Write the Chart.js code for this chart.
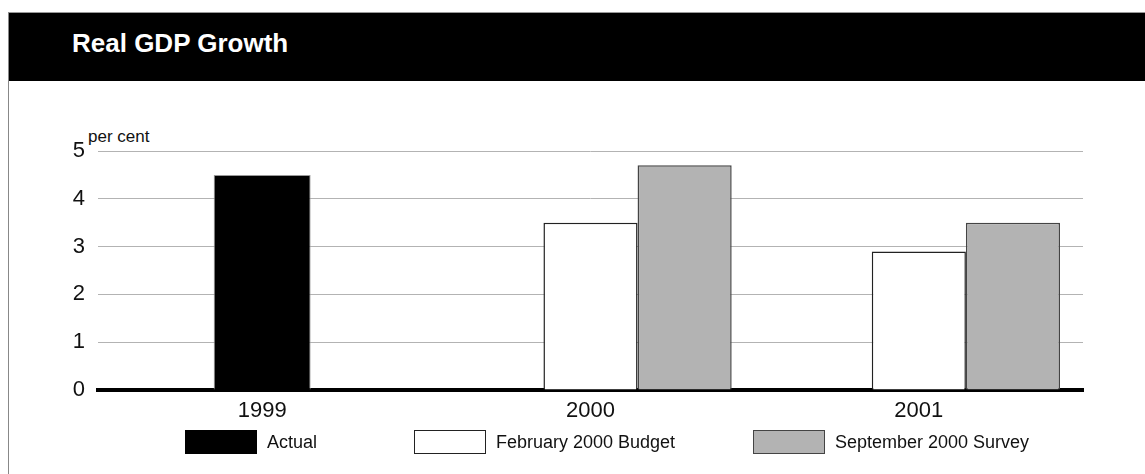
<!DOCTYPE html>
<html>
<head>
<meta charset="utf-8">
<title>Real GDP Growth</title>
<script src="https://cdn.jsdelivr.net/npm/chart.js@4.4.1/dist/chart.umd.min.js"></script>
<style>
  html, body { margin: 0; padding: 0; background: #fff; }
  body { width: 1145px; height: 474px; position: relative; overflow: hidden; font-family: "Liberation Sans", Arial, sans-serif; }
  .frame { position: absolute; left: 8px; top: 12px; width: 1200px; height: 500px; border-left: 1px solid #888; border-top: 1px solid #999; }
  .header { position: absolute; left: 9px; top: 13px; width: 1136px; height: 68px; background: #000; }
  .header h1 { position: absolute; left: 63px; top: 17px; margin: 0; color: #fff; font-size: 26px; line-height: 26px; font-weight: bold; }
  .unit { position: absolute; left: 88px; top: 127px; font-size: 17px; color: #111; }
  .chart-box { position: absolute; left: 9px; top: 82px; width: 1136px; height: 392px; }
  .legend { position: absolute; top: 430px; left: 0; width: 1145px; height: 24px; }
  .legend .item { position: absolute; top: 0; display: flex; align-items: center; height: 24px; }
  .legend .swatch { width: 70px; height: 22px; box-sizing: content-box; }
  .legend .label { margin-left: 10px; font-size: 18px; color: #111; }
</style>
</head>
<body>
<div class="frame"></div>
<div class="header"><h1>Real GDP Growth</h1></div>
<div class="unit">per cent</div>
<div class="chart-box"><canvas id="gdp" width="1136" height="392"></canvas></div>
<div class="legend" id="legend"></div>

<script>
// values
const years = ['1999', '2000', '2001'];
const actual = [4.5, null, null];
const budgetFeb2000 = [null, 3.5, 2.9];
const surveySep2000 = [null, 4.7, 3.5];
const emptySlot = [null, null, null]; // first bar slot is unused in the original
const yTicks = [0, 1, 2, 3, 4, 5];

const seriesNames = ['Actual', 'February 2000 Budget', 'September 2000 Survey'];
const fills = ['#000000', '#ffffff', '#b3b3b3'];
const edges = ['#999999', '#222222', '#444444'];
const legendLeft = [185, 414, 753];

const fontFamily = '"Liberation Sans", Arial, sans-serif';

const data = {
  labels: years,
  datasets: [
    { label: '', data: emptySlot, stack: 'a', backgroundColor: '#fff' },
    { label: seriesNames[0], data: actual, stack: 'b', backgroundColor: fills[0], borderColor: edges[0], borderWidth: 1, barPercentage: 1.03 },
    { label: seriesNames[1], data: budgetFeb2000, stack: 'b', backgroundColor: fills[1], borderColor: edges[1], borderWidth: 1.5 },
    { label: seriesNames[2], data: surveySep2000, stack: 'c', backgroundColor: fills[2], borderColor: edges[2], borderWidth: 1.5 },
  ],
};

const options = {
  responsive: false,
  animation: false,
  categoryPercentage: 0.86,
  barPercentage: 1.0,
  layout: { padding: { top: 69, right: 62, left: 0, bottom: 0 } },
  plugins: {
    legend: { display: false },
    tooltip: { enabled: false },
  },
  scales: {
    x: {
      grid: { display: false },
      border: { display: true, color: '#000', width: 4 },
      ticks: { color: '#111', padding: 0, font: { family: fontFamily, size: 22 } },
      afterFit: scale => { scale.height = 84; },
    },
    y: {
      min: 0,
      max: 5,
      afterBuildTicks: scale => { scale.ticks = yTicks.map(v => ({ value: v })); },
      grid: { color: '#b3b3b3', lineWidth: 1, drawTicks: false },
      border: { display: false },
      ticks: { color: '#111', padding: 13, font: { family: fontFamily, size: 22 } },
      afterFit: scale => { scale.width = 89; },
    },
  },
};

new Chart(document.getElementById('gdp').getContext('2d'), {
  type: 'bar',
  data: data,
  options: options,
});

// legend drawn as html, boxes taken from the series styles
const legend = document.getElementById('legend');
seriesNames.forEach((name, i) => {
  const item = document.createElement('div');
  item.className = 'item';
  item.style.left = legendLeft[i] + 'px';
  const swatch = document.createElement('span');
  swatch.className = 'swatch';
  swatch.style.background = fills[i];
  swatch.style.border = '1px solid ' + (i === 0 ? '#000' : edges[i]);
  const label = document.createElement('span');
  label.className = 'label';
  label.textContent = name;
  item.appendChild(swatch);
  item.appendChild(label);
  legend.appendChild(item);
});
</script>
</body>
</html>
